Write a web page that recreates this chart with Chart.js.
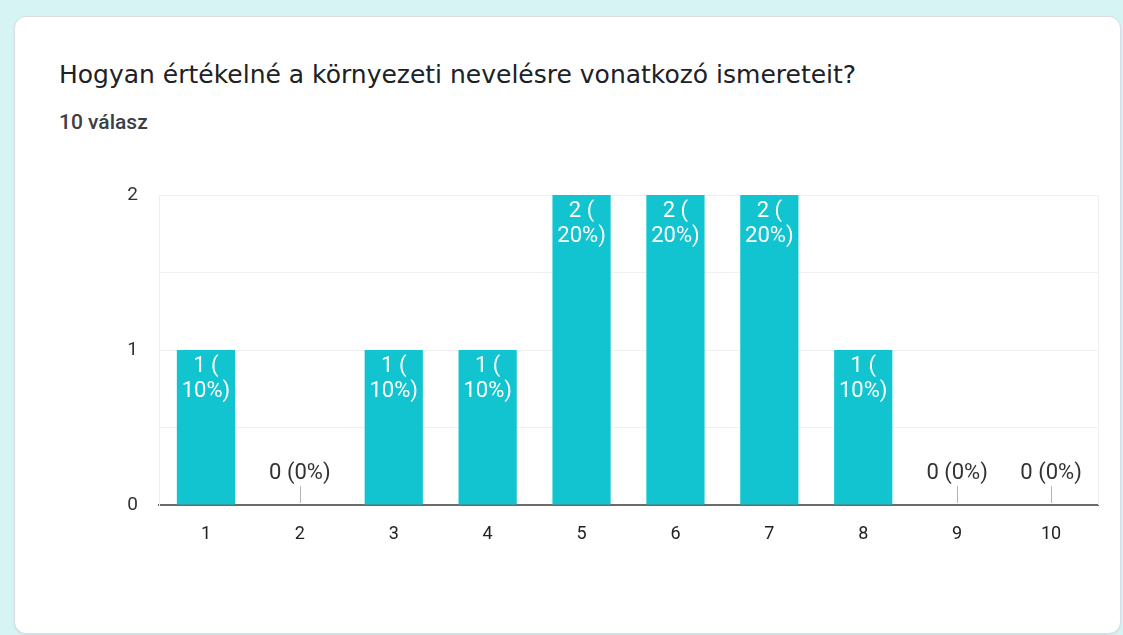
<!DOCTYPE html>
<html>
<head>
<meta charset="utf-8">
<script src="https://cdn.jsdelivr.net/npm/chart.js@4.4.1/dist/chart.umd.min.js"></script>
<style>
  html, body { margin:0; padding:0; }
  body { width:1123px; height:635px; background:#d7f4f5; position:relative; overflow:hidden; font-family: Roboto, sans-serif; }
  #card { position:absolute; left:14px; top:16px; width:1105px; height:616px; background:#fff; border:1px solid #dadce0; border-radius:12px; box-shadow:0 1px 2px rgba(0,0,0,0.08); }
  #title { position:absolute; left:59px; top:60px; font-family:"DejaVu Sans", sans-serif; font-size:25px; line-height:30px; color:#202124; white-space:nowrap; }
  #sub { position:absolute; left:59px; top:110px; font-size:21px; line-height:24px; font-weight:500; color:#3c4043; white-space:nowrap; }
  #wrap { position:absolute; left:0; top:0; width:1123px; height:635px; }
</style>
</head>
<body>
<div id="card"></div>
<div id="title">Hogyan értékelné a környezeti nevelésre vonatkozó ismereteit?</div>
<div id="sub">10 válasz</div>
<div id="wrap"><canvas id="c"></canvas></div>
<script>
const categories = ["1","2","3","4","5","6","7","8","9","10"];
const counts = [1,0,1,1,2,2,2,1,0,0];
const percents = [10,0,10,10,20,20,20,10,0,0];
const yTicks = [0,1,2];

const FONT = 'Roboto, sans-serif';
const labelPlugin = {
  id: 'barLabels',
  afterDatasetsDraw(chart) {
    const ctx = chart.ctx;
    const meta = chart.getDatasetMeta(0);
    const area = chart.chartArea;
    ctx.save();
    ctx.strokeStyle = '#f0f0f0';
    ctx.lineWidth = 1;
    ctx.beginPath();
    ctx.moveTo(Math.round(area.right)+0.5, area.top);
    ctx.lineTo(Math.round(area.right)+0.5, area.bottom);
    ctx.stroke();
    ctx.textAlign = 'center';
    ctx.textBaseline = 'middle';
    ctx.font = '22px ' + FONT;
    meta.data.forEach((bar, i) => {
      const v = counts[i];
      if (v > 0) {
        ctx.fillStyle = '#ffffff';
        ctx.fillText(v + ' (', bar.x, bar.y + 16);
        ctx.fillText(percents[i] + '%)', bar.x, bar.y + 41);
      } else {
        const base = chart.scales.y.getPixelForValue(0);
        ctx.strokeStyle = '#b5b5b5';
        ctx.beginPath();
        ctx.moveTo(Math.round(bar.x)+0.5, base - 2);
        ctx.lineTo(Math.round(bar.x)+0.5, base - 19);
        ctx.stroke();
        ctx.fillStyle = '#333333';
        ctx.fillText(v + ' (' + percents[i] + '%)', bar.x, base - 32);
      }
    });
    ctx.restore();
  }
};

new Chart(document.getElementById('c'), {
  type: 'bar',
  data: {
    labels: categories,
    datasets: [{
      data: counts,
      backgroundColor: '#12c4cf',
      borderWidth: 0,
      categoryPercentage: 0.62,
      barPercentage: 1.0
    }]
  },
  options: {
    responsive: true,
    maintainAspectRatio: false,
    animation: false,
    layout: { padding: { left: 0, right: 25, top: 195, bottom: 0 } },
    plugins: { legend: { display:false }, tooltip: { enabled:false } },
    scales: {
      x: {
        grid: { display:false },
        border: { display:true, color:'#6b6b6b', width:2 },
        ticks: { color:'#222', font:{ size:18, family:FONT }, padding: 11, maxRotation:0 },
        afterFit(s) { s.height = 130; }
      },
      y: {
        min: 0, max: 2,
        afterBuildTicks(s) { s.ticks = [0,0.5,1,1.5,2].map(v => ({value:v})); },
        grid: { color: '#f0f0f0', drawTicks:false },
        border: { display:true, color:'#eeeeee' },
        ticks: {
          color:'#333', font:{ size:19, family:FONT }, padding: 21,
          callback(v) { return yTicks.includes(v) ? String(v) : ''; }
        },
        afterFit(s) { s.width = 159; }
      }
    }
  },
  plugins: [labelPlugin]
});
</script>
</body>
</html>
